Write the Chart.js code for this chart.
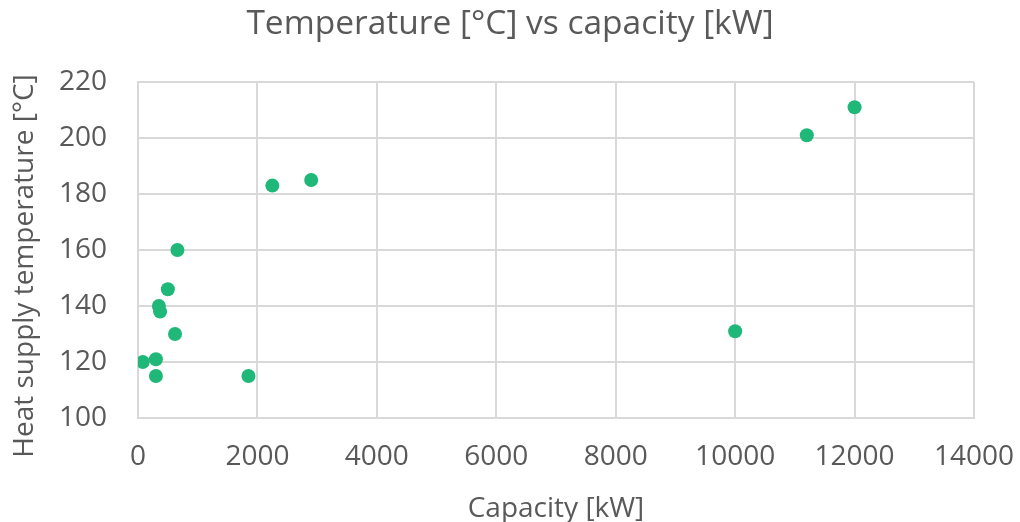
<!DOCTYPE html>
<html>
<head>
<meta charset="utf-8">
<script src="https://cdn.jsdelivr.net/npm/chart.js@4/dist/chart.umd.min.js"></script>
<style>
  html, body { margin: 0; padding: 0; background: #ffffff; }
  #wrap { width: 1020px; height: 522px; }
</style>
</head>
<body>
<div id="wrap"><canvas id="c" width="1020" height="522"></canvas></div>
<script>
// Data
const capacityKW = [80, 300, 300, 350, 370, 500, 620, 660, 1850, 2250, 2900, 10000, 11200, 12000];
const supplyTempC = [120, 121, 115, 140, 138, 146, 130, 160, 115, 183, 185, 131, 201, 211];
const xTicks = [0, 2000, 4000, 6000, 8000, 10000, 12000, 14000];
const yTicks = [100, 120, 140, 160, 180, 200, 220];

const chartTitle = 'Temperature [°C] vs capacity [kW]';
const xTitle = 'Capacity [kW]';
const yTitle = 'Heat supply temperature [°C]';

const textColor = '#595959';
const gridColor = '#D9D9D9';
const pointColor = '#20B878';
const FONT = "'Open Sans', 'Liberation Sans', sans-serif";

const points = capacityKW.map((x, i) => ({ x: x, y: supplyTempC[i] }));

// Draws the vertical axis title (real text), centred where the reference has it
const yTitlePlugin = {
  id: 'yTitlePlugin',
  afterDraw(chart) {
    const ctx = chart.ctx;
    const area = chart.chartArea;
    ctx.save();
    ctx.fillStyle = textColor;
    ctx.font = "28px " + FONT;
    ctx.textAlign = 'center';
    ctx.textBaseline = 'middle';
    ctx.translate(25, (area.top + area.bottom) / 2 + 16);
    ctx.rotate(-Math.PI / 2);
    ctx.fillText(yTitle, 0, 0);
    ctx.restore();
  }
};

new Chart(document.getElementById('c'), {
  type: 'scatter',
  data: {
    datasets: [{
      data: points,
      backgroundColor: pointColor,
      borderColor: pointColor,
      borderWidth: 0,
      pointRadius: 7,
      pointHoverRadius: 7
    }]
  },
  plugins: [yTitlePlugin],
  options: {
    responsive: false,
    animation: false,
    events: [],
    layout: { padding: 0 },
    plugins: {
      legend: { display: false },
      tooltip: { enabled: false },
      title: {
        display: true,
        text: chartTitle,
        color: textColor,
        font: { family: FONT, size: 33.5, weight: 'normal', lineHeight: 1.2 },
        padding: { top: 4, bottom: 37.8 }
      }
    },
    scales: {
      x: {
        type: 'linear',
        min: xTicks[0],
        max: xTicks[xTicks.length - 1],
        afterBuildTicks: (s) => { s.ticks = xTicks.map(v => ({ value: v })); },
        afterFit: (s) => { s.height = 104; s.paddingLeft = 0; s.paddingRight = 46; },
        ticks: {
          color: textColor,
          font: { family: FONT, size: 28 },
          padding: 22,
          maxRotation: 0,
          callback: (v) => String(v)
        },
        grid: { color: gridColor, lineWidth: 2, drawTicks: false },
        border: { color: gridColor, width: 2 },
        title: {
          display: true,
          text: xTitle,
          color: textColor,
          font: { family: FONT, size: 28, lineHeight: 1.2 },
          padding: { top: 0, bottom: -4 }
        }
      },
      y: {
        type: 'linear',
        min: yTicks[0],
        max: yTicks[yTicks.length - 1],
        afterBuildTicks: (s) => { s.ticks = yTicks.map(v => ({ value: v })); },
        afterFit: (s) => { s.width = 138; s.paddingTop = 0; s.paddingBottom = 0; },
        ticks: {
          color: textColor,
          font: { family: FONT, size: 28 },
          padding: 31,
          callback: (v) => String(v)
        },
        grid: { color: gridColor, lineWidth: 2, drawTicks: false },
        border: { color: gridColor, width: 2 }
      }
    }
  }
});
</script>
</body>
</html>
